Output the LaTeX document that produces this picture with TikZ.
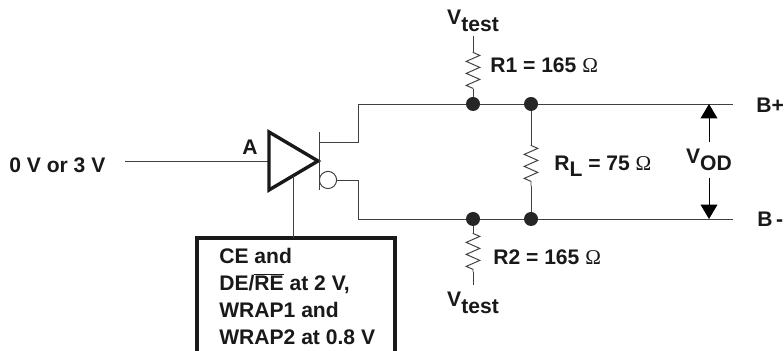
\documentclass[tikz,border=0pt]{standalone}
\usepackage{fontspec}
\setmainfont{Liberation Sans}
\newfontfamily\serifom{Liberation Serif}
\usetikzlibrary{arrows.meta,decorations.pathreplacing,decorations.pathmorphing}

\newcommand{\ohm}{{\serifom\mdseries Ω}}
\newcommand{\subtxt}[1]{\raisebox{-0.3em}{#1}}

\begin{document}
\begin{tikzpicture}[x=0.25mm,y=-0.25mm,
    wire/.style={black!75,line width=0.7pt},
    punkt/.style={circle,inner sep=0pt,minimum size=3.5mm,fill=black!85},
    widerstand/.style={wire,decorate,decoration={zigzag,segment length=3mm,amplitude=1.7mm,pre length=0.1mm,post length=0.1mm}},
    lab/.style={font=\fontsize{15}{15}\selectfont\bfseries,text=black!90,inner sep=0pt},
    pfeil/.style={-{Triangle[length=3.6mm,width=4.2mm]},black,line width=0.7pt},
]
\useasboundingbox (0,0) rectangle (784,351);

% input and driver
\node [lab,anchor=west] (in) at (9,165){0 V or 3 V};
\node [lab] (A) at (250,147){A};
\coordinate (instart) at (125,161);
\coordinate (T1) at (269,132);
\coordinate (T2) at (269,190);
\coordinate (T3) at (318,161);
\coordinate (Tin) at (269,161);
\coordinate (Tb) at (293,176);
\draw[wire] (instart)--(Tin);
\draw[black!90,line width=2.4pt,line join=miter] (T1)--(T3)--(T2)--cycle;

% outputs
\coordinate (S1) at (319,132);
\coordinate (S2) at (319,190);
\draw[wire] (S1)--(S2);
\node [circle,draw=black!75,line width=0.7pt,inner sep=0pt,minimum size=4.3mm] (inv) at (328,180){};
\coordinate (oben) at (358,104);
\coordinate (unten) at (358,219);
\coordinate (obenout) at (733,104);
\coordinate (untenout) at (733,219);
\draw[wire] (319,142)-|(oben)--(obenout);
\draw[wire] (inv.east)-|(unten)--(untenout);

\node [punkt] (p1) at (473,104){};
\node [punkt] (p2) at (531,104){};
\node [punkt] (p3) at (473,219){};
\node [punkt] (p4) at (531,219){};

% resistors
\node [lab] (vt1) at (473,21){V\subtxt{test}};
\coordinate (r1a) at (473,52);
\coordinate (r1b) at (473,89);
\draw[wire] (473,36)--(r1a);
\draw[widerstand] (r1a)--(r1b);
\draw[wire] (r1b)--(p1);
\node [lab,anchor=west] (R1) at (490,65){R1 = 165 \ohm};

\node [lab] (vt2) at (473,303){V\subtxt{test}};
\coordinate (r2a) at (473,233);
\coordinate (r2b) at (473,272);
\draw[wire] (p3)--(r2a);
\draw[widerstand] (r2a)--(r2b);
\draw[wire] (r2b)--(473,285);
\node [lab,anchor=west] (R2) at (493,257){R2 = 165 \ohm};

\coordinate (rla) at (531,145);
\coordinate (rlb) at (531,186);
\draw[wire] (p2)--(rla);
\draw[widerstand] (rla)--(rlb);
\draw[wire] (rlb)--(p4);
\node [lab,anchor=west] (RL) at (554,166){R\subtxt{L} = 75 \ohm};

% V_OD arrows
\node [lab,minimum height=8.7mm] (vod) at (709,160){V\subtxt{OD}};
\coordinate (vo) at (709,104);
\coordinate (vu) at (709,219);
\draw[pfeil] (vod)--(vo);
\draw[pfeil] (vod)--(vu);
\node [lab,anchor=west] (bp) at (756,105){B+};
\node [lab,anchor=west] (bm) at (757,219){B\,-};

% control box
\coordinate (k1) at (197,351);
\coordinate (k2) at (197,238);
\coordinate (k3) at (395,238);
\coordinate (k4) at (395,351);
\draw[black!90,line width=2.4pt] (k1)--(k2)--(k3)--(k4);
\draw[wire] (Tb)--(Tb|-k2);
\node [lab,anchor=north west,align=left,font=\fontsize{15}{19.2}\selectfont\bfseries] (kbox) at (219,248){CE and\\DE/$\overline{\mbox{RE}}$ at 2 V,\\WRAP1 and\\WRAP2 at 0.8 V};
\end{tikzpicture}
\end{document}
